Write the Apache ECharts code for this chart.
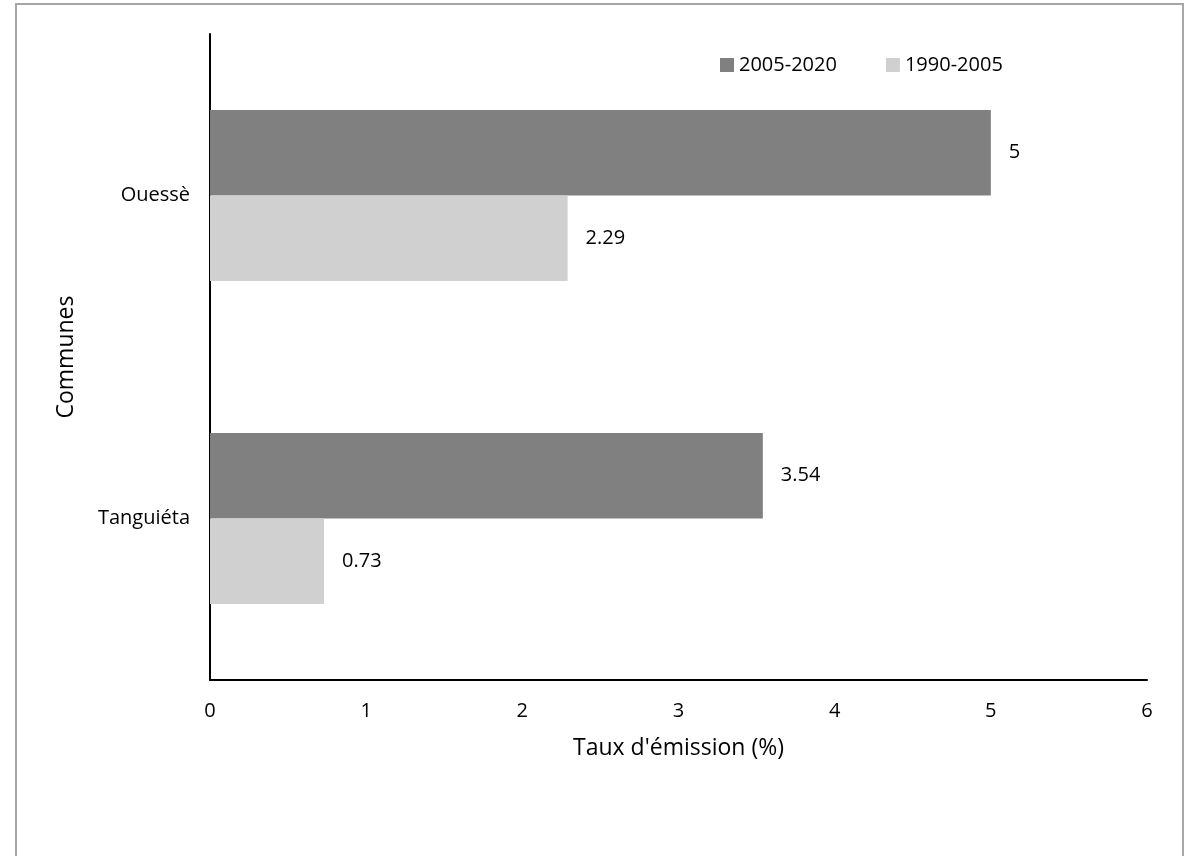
<!DOCTYPE html>
<html>
<head>
<meta charset="utf-8">
<script src="https://cdn.jsdelivr.net/npm/echarts@6/dist/echarts.min.js"></script>
<style>
html,body{margin:0;padding:0;background:#fff;}
#chart{width:1193px;height:856px;}
</style>
</head>
<body>
<div id="chart"></div>
<script>
const categories = ['Ouessè', 'Tanguiéta'];
const seriesNames = ['2005-2020', '1990-2005'];
const values2005_2020 = [5, 3.54];
const values1990_2005 = [2.29, 0.73];
const xTicks = [0, 1, 2, 3, 4, 5, 6];

const font = '"Open Sans", "Liberation Sans", sans-serif';
const chart = echarts.init(document.getElementById('chart'));
chart.setOption({
  backgroundColor: '#fff',
  animation: false,
  textStyle: { fontFamily: font, color: '#000' },
  graphic: [{
    type: 'rect',
    shape: { x: 16, y: 4, width: 1167, height: 900 },
    style: { fill: 'none', stroke: '#a6a6a6', lineWidth: 2 },
    silent: true
  }],
  legend: {
    data: seriesNames,
    top: 50,
    left: 715,
    itemWidth: 14,
    itemHeight: 14,
    itemGap: 49,
    icon: 'rect',
    textStyle: { fontFamily: font, fontSize: 20, color: '#000' }
  },
  grid: { left: 210, right: 46, top: 34, bottom: 176 },
  xAxis: {
    type: 'value',
    min: xTicks[0],
    max: xTicks[xTicks.length - 1],
    interval: 1,
    name: "Taux d'émission (%)",
    nameLocation: 'middle',
    nameGap: 57,
    nameTextStyle: { fontFamily: font, fontSize: 23, color: '#000' },
    axisLine: { show: true, lineStyle: { color: '#000', width: 2 } },
    axisTick: { show: false },
    splitLine: { show: false },
    axisLabel: { fontFamily: font, fontSize: 20, color: '#000', margin: 21 }
  },
  yAxis: {
    type: 'category',
    data: categories,
    inverse: true,
    name: 'Communes',
    nameLocation: 'middle',
    nameGap: 132,
    nameTextStyle: { fontFamily: font, fontSize: 23, color: '#000' },
    axisLine: { show: true, lineStyle: { color: '#000', width: 2 } },
    axisTick: { show: false },
    axisLabel: { fontFamily: font, fontSize: 20, color: '#000', margin: 20 }
  },
  series: [
    {
      name: seriesNames[0],
      type: 'bar',
      data: values2005_2020,
      itemStyle: { color: '#808080' },
      barGap: '0%',
      barCategoryGap: '47%',
      label: { show: true, position: 'right', distance: 18, fontFamily: font, fontSize: 20, color: '#000' }
    },
    {
      name: seriesNames[1],
      type: 'bar',
      data: values1990_2005,
      itemStyle: { color: '#d1d0d1' },
      barGap: '0%',
      barCategoryGap: '47%',
      label: { show: true, position: 'right', distance: 18, fontFamily: font, fontSize: 20, color: '#000' }
    }
  ]
});
</script>
</body>
</html>
